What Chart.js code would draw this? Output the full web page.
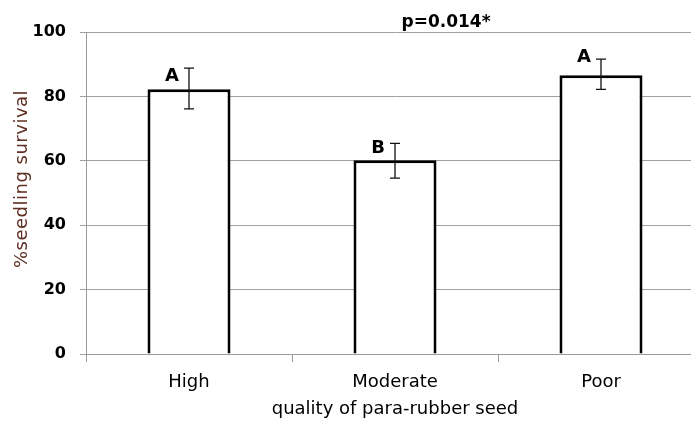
<!DOCTYPE html>
<html>
<head>
<meta charset="utf-8">
<script src="https://cdn.jsdelivr.net/npm/chart.js@4/dist/chart.umd.min.js"></script>
<style>
  html, body { margin: 0; padding: 0; background: #fff; overflow: hidden; }
  #wrap { width: 704px; height: 421px; }
</style>
</head>
<body>
<div id="wrap"><canvas id="chart" width="704" height="421"></canvas></div>
<script>
const categories = ["High", "Moderate", "Poor"];
const survival = [82.2, 60.2, 86.6];
const errLow = [76.1, 54.6, 82.2];
const errHigh = [88.8, 65.4, 91.6];
const letters = ["A", "B", "A"];
const letterLevel = [86.3, 64.0, 92.2];
const yTicks = [0, 20, 40, 60, 80, 100];

const FONT = "'DejaVu Sans', Verdana, sans-serif";

const extras = {
  id: "extras",
  afterDatasetsDraw(chart) {
    const ctx = chart.ctx;
    const x = chart.scales.x;
    const y = chart.scales.y;
    ctx.save();
    // error bars
    ctx.strokeStyle = "#111";
    ctx.lineWidth = 1.3;
    survival.forEach((v, i) => {
      const cx = x.getPixelForValue(i);
      const top = y.getPixelForValue(errHigh[i]);
      const bot = y.getPixelForValue(errLow[i]);
      ctx.beginPath();
      ctx.moveTo(cx, top); ctx.lineTo(cx, bot);
      ctx.moveTo(cx - 5, top); ctx.lineTo(cx + 5, top);
      ctx.moveTo(cx - 5, bot); ctx.lineTo(cx + 5, bot);
      ctx.stroke();
    });
    // letters
    ctx.fillStyle = "#000";
    ctx.font = "bold 18px " + FONT;
    ctx.textAlign = "center";
    ctx.textBaseline = "middle";
    letters.forEach((l, i) => {
      ctx.fillText(l, x.getPixelForValue(i) - 17, y.getPixelForValue(letterLevel[i]));
    });
    // p value
    ctx.font = "bold 17px " + FONT;
    ctx.fillText("p=0.014*", 446, 23);
    // y title
    ctx.translate(22, 179);
    ctx.rotate(-Math.PI / 2);
    ctx.fillStyle = "#5e2e22";
    ctx.font = "18px " + FONT;
    ctx.letterSpacing = "0.5px";
    ctx.fillText("%seedling survival", 0, 0);
    ctx.restore();
  }
};

new Chart(document.getElementById("chart"), {
  type: "bar",
  data: {
    labels: categories,
    datasets: [{
      data: survival,
      backgroundColor: "#fff",
      borderColor: "#000",
      borderWidth: 3,
      barPercentage: 0.403,
      categoryPercentage: 1
    }]
  },
  options: {
    responsive: false,
    animation: false,
    devicePixelRatio: 1,
    layout: { padding: { top: 32, left: 0, right: 0, bottom: 0 } },
    plugins: { legend: { display: false }, tooltip: { enabled: false } },
    scales: {
      x: {
        afterFit: s => { s.height = 67; },
        grid: { offset: true, drawOnChartArea: false, tickLength: 8, color: "#9a9a9a" },
        border: { color: "#9a9a9a" },
        ticks: { color: "#000", font: { family: FONT, size: 18 }, padding: 10 },
        title: {
          display: true,
          text: "quality of para-rubber seed",
          color: "#000",
          font: { family: FONT, size: 18 },
          padding: { top: 0, bottom: 1 }
        }
      },
      y: {
        min: 0,
        max: 100,
        afterFit: s => { s.width = 86; },
        afterBuildTicks: s => { s.ticks = yTicks.map(v => ({ value: v })); },
        grid: { color: "#a0a0a0", tickLength: 6 },
        border: { color: "#9a9a9a" },
        ticks: { color: "#000", font: { family: FONT, size: 16, weight: "bold" }, padding: 14 }
      }
    }
  },
  plugins: [extras]
});
</script>
</body>
</html>
